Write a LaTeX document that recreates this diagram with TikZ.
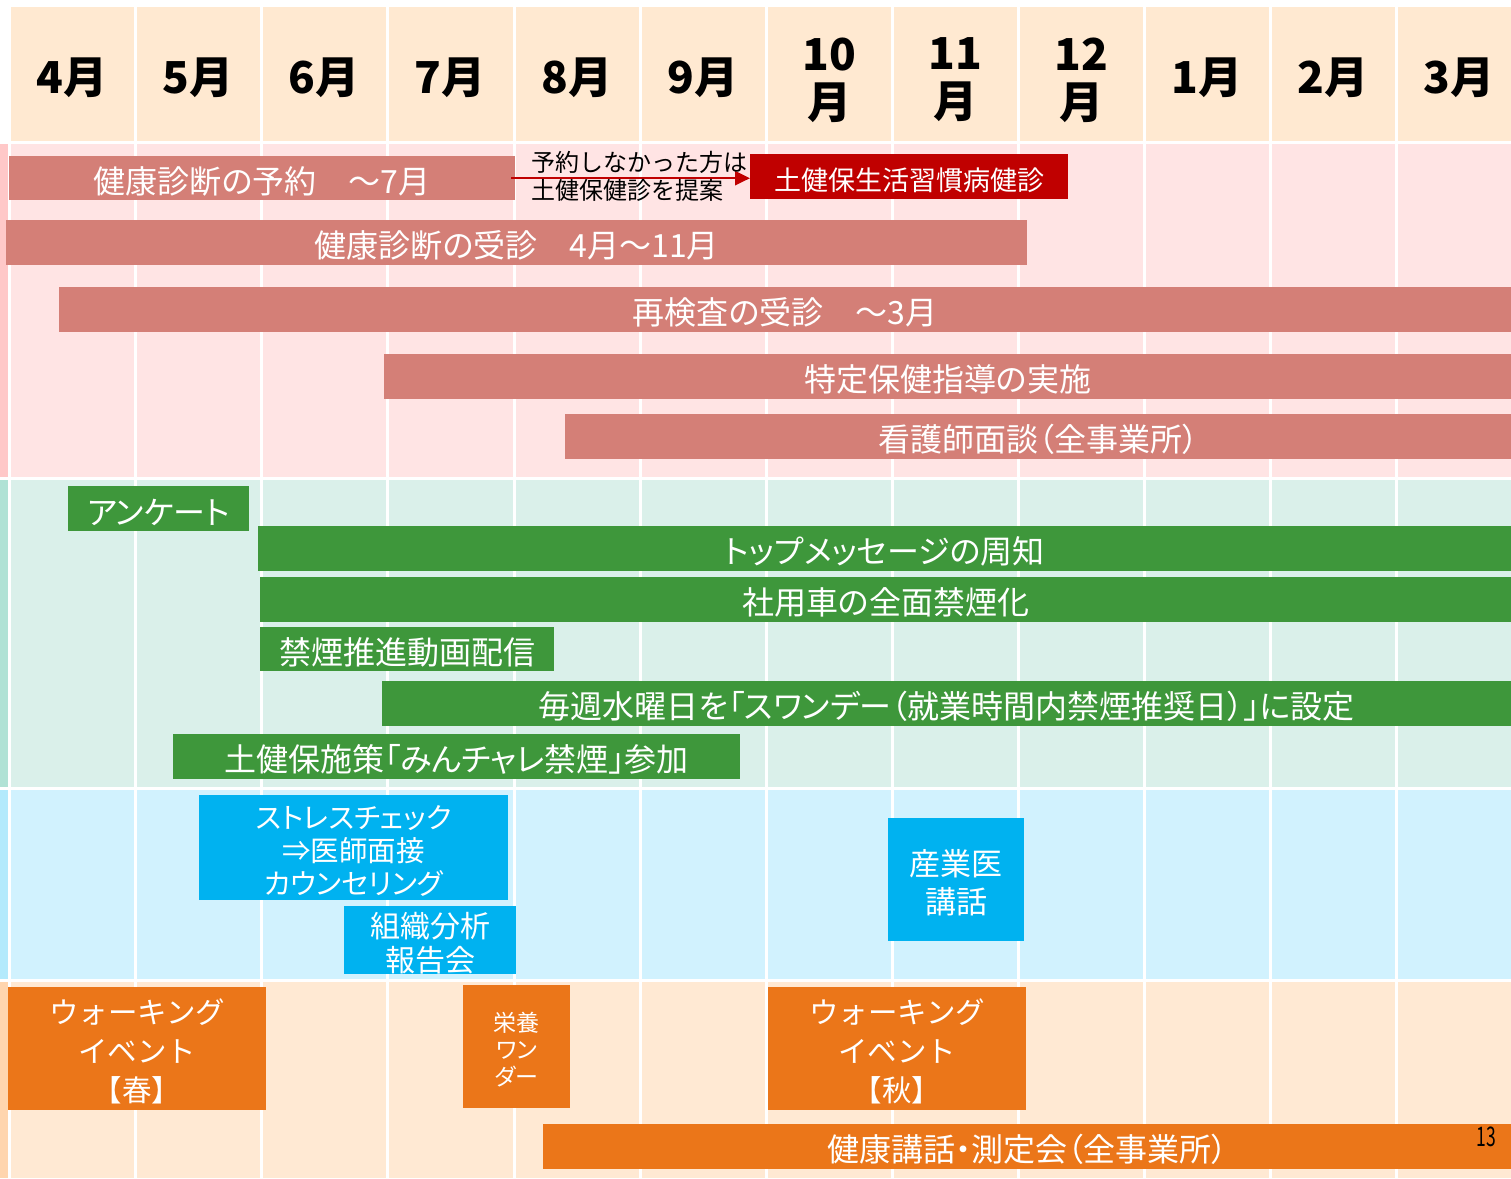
\documentclass[tikz,border=0pt]{standalone}
\usepackage{fontspec}
\setmainfont{Noto Sans CJK JP}[RawFeature=+palt]
\newfontfamily\jpfull{Noto Sans CJK JP}
\usetikzlibrary{arrows.meta}
\definecolor{hdr}{HTML}{FFE9D1}
\definecolor{sa}{HTML}{FFE4E4}
\definecolor{saS}{HTML}{FFC8C8}
\definecolor{sb}{HTML}{DAF0EA}
\definecolor{sbS}{HTML}{B0E2D5}
\definecolor{sc}{HTML}{D1F2FE}
\definecolor{scS}{HTML}{B3EAFC}
\definecolor{sd}{HTML}{FFE9D3}
\definecolor{sdS}{HTML}{FFD5AE}
\definecolor{salmon}{HTML}{D47F77}
\definecolor{dred}{HTML}{C00000}
\definecolor{grn}{HTML}{3E973B}
\definecolor{blu}{HTML}{00B2F0}
\definecolor{org}{HTML}{EB7619}
\newcommand\up[1]{\rule{0pt}{#1pt}}
\begin{document}
\begin{tikzpicture}[x=1pt,y=-1pt,
  month/.style={inner sep=0, text=black, font=\bfseries\fontsize{44}{48}\selectfont, align=center},
  bar/.style={anchor=north west, inner sep=0, text=white, font=\fontsize{32}{36}\selectfont, align=center},
  pinkbar/.style={bar, fill=salmon},
  greenbar/.style={bar, fill=grn},
  bluebox/.style={bar, fill=blu},
  orangebox/.style={bar, fill=org},
  gridline/.style={white, line width=3pt}]
\useasboundingbox (0,0) rectangle (1511,1178);
\fill[white] (0,0) rectangle (1511,1178);
% backgrounds
\fill[hdr] (11,7) rectangle (1511,141);
\fill[sa] (11,144) rectangle (1511,477);
\fill[saS] (0,144) rectangle (8,477);
\fill[sb] (11,480) rectangle (1511,787);
\fill[sbS] (0,480) rectangle (8,787);
\fill[sc] (11,790) rectangle (1511,979);
\fill[scS] (0,790) rectangle (8,979);
\fill[sd] (11,982) rectangle (1511,1178);
\fill[sdS] (0,982) rectangle (8,1178);
\foreach \x in {135,261,387,514,640,766,892,1018,1144,1270,1396}
  \draw[gridline] (\x,7) -- (\x,1178);
% month header
\node[month] (m4) at (72,78) {4月};
\node[month] (m5) at (198,78) {5月};
\node[month] (m6) at (324,78) {6月};
\node[month] (m7) at (450,78) {7月};
\node[month] (m8) at (577,78) {8月};
\node[month] (m9) at (703,78) {9月};
\node[month] (m10) at (829,80) {10\\月};
\node[month] (m11) at (955,80) {11\\月};
\node[month] (m12) at (1081,80) {12\\月};
\node[month] (m1) at (1207,78) {1月};
\node[month] (m2) at (1333,78) {2月};
\node[month] (m3) at (1459,78) {3月};
% section 1
\node[pinkbar, minimum width=506, minimum height=44] (r1) at (9,156) {\up{33}健康診断の予約　～7月};
\node[bar, fill=dred, minimum width=318, minimum height=45, font=\fontsize{27}{32}\selectfont] (red) at (750,154) {\up{30.5}土健保生活習慣病健診};
\draw[dred, line width=2.4pt, -{Triangle[length=15pt,width=14pt]}] ([xshift=-4pt]r1.east) -- (red.west |- r1.east);
\node[anchor=west, inner sep=0, align=left, text=black, font=\jpfull\fontsize{24}{28}\selectfont] (note) at (531,176) {予約しなかった方は\\土健保健診を提案};
\node[pinkbar, minimum width=1021, minimum height=45] (r2) at (6,220) {\up{33}健康診断の受診　4月～11月};
\node[pinkbar, minimum width=1452, minimum height=45] (r3) at (59,287) {\up{33}再検査の受診　～3月};
\node[pinkbar, minimum width=1127, minimum height=45] (r4) at (384,354) {\up{33}特定保健指導の実施};
\node[pinkbar, minimum width=946, minimum height=45] (r5) at (565,414) {\up{33}看護師面談（全事業所）};
% section 2
\node[greenbar, minimum width=181, minimum height=45] (g1) at (68,486) {\up{33}アンケート};
\node[greenbar, minimum width=1253, minimum height=45] (g2) at (258,526) {\up{33}トップメッセージの周知};
\node[greenbar, minimum width=1251, minimum height=45] (g3) at (260,577) {\up{33}社用車の全面禁煙化};
\node[greenbar, minimum width=294, minimum height=44] (g4) at (260,627) {\up{33}禁煙推進動画配信};
\node[greenbar, minimum width=1129, minimum height=45] (g5) at (382,681) {\up{33}毎週水曜日を「スワンデー（就業時間内禁煙推奨日）」に設定};
\node[greenbar, minimum width=567, minimum height=45] (g6) at (173,734) {\up{33}土健保施策「みんチャレ禁煙」参加};
% section 3
\node[bluebox, minimum width=309, minimum height=105, font=\fontsize{28.5}{33}\selectfont] (b1) at (199,795) {\up{29.5}ストレスチェック\\⇒医師面接\\カウンセリング};
\node[bluebox, minimum width=172, minimum height=68, font=\fontsize{30}{34}\selectfont] (b2) at (344,906) {\up{31}組織分析\\報告会};
\node[bluebox, minimum width=136, minimum height=123, font=\fontsize{31}{38}\selectfont] (b3) at (888,818) {\up{32}産業医\\講話};
% section 4
\node[orangebox, minimum width=258, minimum height=123, font=\jpfull\fontsize{29.5}{39}\selectfont] (o1) at (8,987) {\up{30.5}ウォーキング\\イベント\\【春】};
\node[orangebox, minimum width=107, minimum height=123, font=\fontsize{23}{27}\selectfont] (o2) at (463,985) {\up{25}栄養\\ワン\\ダー};
\node[orangebox, minimum width=258, minimum height=123, font=\jpfull\fontsize{29.5}{39}\selectfont] (o3) at (768,987) {\up{30.5}ウォーキング\\イベント\\【秋】};
\node[orangebox, minimum width=968, minimum height=45] (o4) at (543,1124) {\up{33}健康講話・測定会（全事業所）};
\node[inner sep=0, text=black, font=\fontsize{27}{30}\selectfont] (pg) at (1486,1137) {\scalebox{0.65}[1]{13}};
\end{tikzpicture}
\end{document}
